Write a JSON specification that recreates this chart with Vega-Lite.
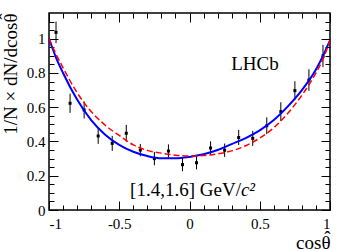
{
  "$schema": "https://vega.github.io/schema/vega-lite/v6.json",
  "width": 281,
  "height": 197,
  "autosize": {"type": "none"},
  "padding": {"left": 49, "top": 13, "right": 19, "bottom": 41},
  "background": "white",
  "config": {
    "font": "Liberation Serif",
    "view": {"stroke": "black", "strokeWidth": 1.5},
    "axis": {"grid": false, "domain": false, "tickColor": "black", "tickWidth": 1, "labelColor": "black", "titleColor": "black", "labelFont": "Liberation Serif", "titleFont": "Liberation Serif", "labelFontSize": 15, "titleFontSize": 19, "titleFontWeight": "normal"}
  },
  "datasets": {
    "pts": [
      {"c": -0.95, "v": 1.037, "e": 0.063},
      {"c": -0.85, "v": 0.623, "e": 0.056},
      {"c": -0.75, "v": 0.584, "e": 0.05},
      {"c": -0.65, "v": 0.432, "e": 0.046},
      {"c": -0.55, "v": 0.389, "e": 0.044},
      {"c": -0.45, "v": 0.448, "e": 0.049},
      {"c": -0.35, "v": 0.35, "e": 0.036},
      {"c": -0.25, "v": 0.3, "e": 0.039},
      {"c": -0.15, "v": 0.344, "e": 0.039},
      {"c": -0.05, "v": 0.265, "e": 0.039},
      {"c": 0.05, "v": 0.276, "e": 0.039},
      {"c": 0.15, "v": 0.362, "e": 0.039},
      {"c": 0.25, "v": 0.349, "e": 0.039},
      {"c": 0.35, "v": 0.423, "e": 0.044},
      {"c": 0.45, "v": 0.418, "e": 0.044},
      {"c": 0.55, "v": 0.492, "e": 0.049},
      {"c": 0.65, "v": 0.574, "e": 0.055},
      {"c": 0.75, "v": 0.697, "e": 0.055},
      {"c": 0.85, "v": 0.759, "e": 0.063},
      {"c": 0.95, "v": 0.899, "e": 0.065}
    ],
    "blue": [
      {"c": -1.0, "v": 1.0}, {"c": -0.95, "v": 0.89}, {"c": -0.9, "v": 0.8}, {"c": -0.8, "v": 0.645},
      {"c": -0.7, "v": 0.525}, {"c": -0.6, "v": 0.44}, {"c": -0.5, "v": 0.38}, {"c": -0.4, "v": 0.34},
      {"c": -0.3, "v": 0.315}, {"c": -0.2, "v": 0.302}, {"c": -0.1, "v": 0.302}, {"c": 0.0, "v": 0.31},
      {"c": 0.1, "v": 0.325}, {"c": 0.2, "v": 0.35}, {"c": 0.3, "v": 0.385}, {"c": 0.4, "v": 0.42},
      {"c": 0.5, "v": 0.465}, {"c": 0.6, "v": 0.525}, {"c": 0.7, "v": 0.605}, {"c": 0.8, "v": 0.7},
      {"c": 0.9, "v": 0.82}, {"c": 0.95, "v": 0.9}, {"c": 1.0, "v": 0.99}
    ],
    "red": [
      {"c": -1.0, "v": 1.0}, {"c": -0.95, "v": 0.91}, {"c": -0.9, "v": 0.83}, {"c": -0.8, "v": 0.685},
      {"c": -0.7, "v": 0.575}, {"c": -0.6, "v": 0.495}, {"c": -0.5, "v": 0.435}, {"c": -0.4, "v": 0.38},
      {"c": -0.3, "v": 0.348}, {"c": -0.2, "v": 0.332}, {"c": -0.1, "v": 0.32}, {"c": 0.0, "v": 0.315},
      {"c": 0.1, "v": 0.318}, {"c": 0.2, "v": 0.328}, {"c": 0.3, "v": 0.345}, {"c": 0.4, "v": 0.375},
      {"c": 0.5, "v": 0.42}, {"c": 0.6, "v": 0.48}, {"c": 0.7, "v": 0.565}, {"c": 0.8, "v": 0.67},
      {"c": 0.9, "v": 0.8}, {"c": 0.95, "v": 0.88}, {"c": 1.0, "v": 0.99}
    ],
    "labels": [
      {"c": 0.466, "v": 0.817, "t": "LHCb", "k": "lhcb"},
      {"c": 0.366, "v": 0.082, "t": "[1.4,1.6] GeV/", "k": "bin"},
      {"c": 0.366, "v": 0.082, "t": "c²", "k": "unit"}
    ]
  },
  "resolve": {"axis": {"x": "independent", "y": "independent"}},
  "layer": [
    {
      "data": {"name": "pts"},
      "mark": {"type": "errorbar", "color": "black", "thickness": 1},
      "encoding": {
        "x": {"field": "c", "type": "quantitative", "scale": {"domain": [-1, 1], "nice": false},
          "axis": {"orient": "bottom", "values": [-1, -0.5, 0, 0.5, 1], "tickSize": -9, "labelPadding": 15,
            "labelExpr": "(datum.value < 0 ? '-' : '') + toString(abs(datum.value))",
            "title": ["ˆ", "cosθ"], "titleLineHeight": 5, "titleAnchor": "end", "titleAlign": "right", "titlePadding": -3}},
        "y": {"field": "v", "type": "quantitative", "scale": {"domain": [0, 1.15], "nice": false, "zero": false},
          "axis": {"orient": "left", "values": [0, 0.2, 0.4, 0.6, 0.8, 1], "tickSize": -9, "labelPadding": 13,
            "labelExpr": "toString(datum.value)",
            "title": ["ˆ", "1/N × dN/dcosθ"], "titleLineHeight": 5, "titleAnchor": "end", "titleAlign": "right", "titlePadding": 6}},
        "yError": {"field": "e"}
      }
    },
    {
      "data": {"name": "pts"},
      "mark": {"type": "point", "shape": "square", "size": 9, "filled": true, "color": "black", "opacity": 1},
      "encoding": {
        "x": {"field": "c", "type": "quantitative", "scale": {"domain": [-1, 1], "nice": false},
          "axis": {"orient": "bottom", "values": [-0.9, -0.8, -0.7, -0.6, -0.4, -0.3, -0.2, -0.1, 0.1, 0.2, 0.3, 0.4, 0.6, 0.7, 0.8, 0.9], "tickSize": -5, "labels": false, "title": null}},
        "y": {"field": "v", "type": "quantitative", "scale": {"domain": [0, 1.15], "nice": false, "zero": false},
          "axis": {"orient": "left", "values": [0.05, 0.1, 0.15, 0.25, 0.3, 0.35, 0.45, 0.5, 0.55, 0.65, 0.7, 0.75, 0.85, 0.9, 0.95, 1.05, 1.1], "tickSize": -5, "labels": false, "title": null}}
      }
    },
    {
      "data": {"name": "blue"},
      "mark": {"type": "line", "color": "#0000ff", "strokeWidth": 2, "interpolate": "monotone"},
      "encoding": {
        "x": {"field": "c", "type": "quantitative", "scale": {"domain": [-1, 1], "nice": false},
          "axis": {"orient": "top", "values": [-1, -0.5, 0, 0.5, 1], "tickSize": -9, "labels": false, "title": null}},
        "y": {"field": "v", "type": "quantitative", "scale": {"domain": [0, 1.15], "nice": false, "zero": false},
          "axis": {"orient": "right", "values": [0, 0.2, 0.4, 0.6, 0.8, 1], "tickSize": -9, "labels": false, "title": null}}
      }
    },
    {
      "data": {"name": "red"},
      "mark": {"type": "line", "color": "#ff0000", "strokeWidth": 1.5, "strokeDash": [6, 3], "interpolate": "monotone"},
      "encoding": {
        "x": {"field": "c", "type": "quantitative", "scale": {"domain": [-1, 1], "nice": false},
          "axis": {"orient": "top", "values": [-0.9, -0.8, -0.7, -0.6, -0.4, -0.3, -0.2, -0.1, 0.1, 0.2, 0.3, 0.4, 0.6, 0.7, 0.8, 0.9], "tickSize": -5, "labels": false, "title": null}},
        "y": {"field": "v", "type": "quantitative", "scale": {"domain": [0, 1.15], "nice": false, "zero": false},
          "axis": {"orient": "right", "values": [0.05, 0.1, 0.15, 0.25, 0.3, 0.35, 0.45, 0.5, 0.55, 0.65, 0.7, 0.75, 0.85, 0.9, 0.95, 1.05, 1.1], "tickSize": -5, "labels": false, "title": null}}
      }
    },
    {
      "data": {"name": "labels"},
      "transform": [{"filter": "datum.k == 'lhcb'"}],
      "mark": {"type": "text", "font": "Liberation Serif", "fontSize": 19, "color": "black", "align": "center", "baseline": "alphabetic"},
      "encoding": {
        "x": {"field": "c", "type": "quantitative", "scale": {"domain": [-1, 1], "nice": false}, "axis": null},
        "y": {"field": "v", "type": "quantitative", "scale": {"domain": [0, 1.15], "nice": false, "zero": false}, "axis": null},
        "text": {"field": "t"}
      }
    },
    {
      "data": {"name": "labels"},
      "transform": [{"filter": "datum.k == 'bin'"}],
      "mark": {"type": "text", "font": "Liberation Serif", "fontSize": 19, "color": "black", "align": "right", "baseline": "alphabetic"},
      "encoding": {
        "x": {"field": "c", "type": "quantitative", "scale": {"domain": [-1, 1], "nice": false}, "axis": null},
        "y": {"field": "v", "type": "quantitative", "scale": {"domain": [0, 1.15], "nice": false, "zero": false}, "axis": null},
        "text": {"field": "t"}
      }
    },
    {
      "data": {"name": "labels"},
      "transform": [{"filter": "datum.k == 'unit'"}],
      "mark": {"type": "text", "font": "Liberation Serif", "fontSize": 19, "fontStyle": "italic", "color": "black", "align": "left", "baseline": "alphabetic"},
      "encoding": {
        "x": {"field": "c", "type": "quantitative", "scale": {"domain": [-1, 1], "nice": false}, "axis": null},
        "y": {"field": "v", "type": "quantitative", "scale": {"domain": [0, 1.15], "nice": false, "zero": false}, "axis": null},
        "text": {"field": "t"}
      }
    }
  ]
}
